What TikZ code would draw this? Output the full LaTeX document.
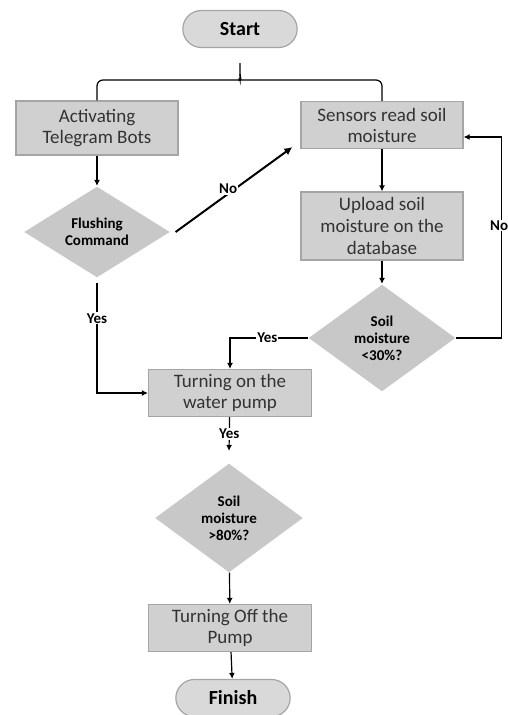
\documentclass[tikz,border=0pt]{standalone}
\usepackage{fontspec}
\setmainfont{Carlito}
\usetikzlibrary{arrows.meta,positioning,shapes.geometric,shapes.misc}
\definecolor{boxfill}{HTML}{D0D0D0}
\definecolor{boxline}{HTML}{A5A5A5}
\definecolor{decfill}{HTML}{C8C8C8}
\definecolor{pillfill}{HTML}{D9D9D9}
\definecolor{txt}{HTML}{333333}

\begin{document}
\begin{tikzpicture}[x=1pt,y=-1pt,line width=1.2pt,>={Latex[length=6pt,width=6pt]},
  procbox/.style={draw=boxline,fill=boxfill,text=txt,align=center,minimum width=163pt,minimum height=47pt,inner sep=2pt,font=\fontsize{19}{21}\selectfont},
  pill/.style={rounded rectangle,draw=boxline,fill=pillfill,text=black,minimum width=121pt,minimum height=37pt,font=\bfseries\fontsize{20}{22}\selectfont},
  decide/.style={diamond,aspect=1.4,fill=decfill,text=black,align=center,inner sep=0pt,minimum width=147pt,minimum height=107pt,font=\bfseries\fontsize{15}{17}\selectfont},
  lbl/.style={fill=white,inner sep=1pt,text=black,font=\bfseries\fontsize{15}{15}\selectfont}]
\useasboundingbox (0,0) rectangle (508,715);

\node[pill] (start) at (240,29) {Start};
\node[procbox,minimum width=162pt,minimum height=54pt] (act) at (97,128) {Activating\\Telegram Bots};
\node[procbox,minimum width=162pt] (sens) at (382,125) {Sensors read soil\\moisture};
\node[decide,minimum width=146pt,minimum height=91pt] (flush) at (97,232) {Flushing\\Command};
\node[procbox,minimum width=162pt,minimum height=68pt,font=\fontsize{19}{22}\selectfont] (upl) at (382,226) {Upload soil\\moisture on the\\database};
\node[decide] (lo) at (382,338) {Soil\\moisture\\<30\%?};
\node[procbox] (ton) at (230,393) {Turning on the\\water pump};
\node[decide,minimum width=148pt,minimum height=109pt] (hi) at (229,518) {Soil\\moisture\\>80\%?};
\node[procbox] (toff) at (230,628) {Turning Off the\\Pump};
\node[pill] (fin) at (233,698) {Finish};

\coordinate (cusp) at (240,74);
\coordinate (stem) at (240,63);
\draw[rounded corners=6pt] (act.north) |- ([xshift=-6pt,yshift=-6pt]cusp) .. controls ([xshift=-2pt,yshift=-6pt]cusp) and ([yshift=-3pt]cusp) .. (cusp) -- (stem);
\draw[rounded corners=6pt] (sens.north) |- ([xshift=6pt,yshift=-6pt]cusp) .. controls ([xshift=2pt,yshift=-6pt]cusp) and ([yshift=-3pt]cusp) .. (cusp);

\draw[->] (act) -- (flush);
\draw[->,line width=2pt,>={Latex[length=8pt,width=8pt]}] ([xshift=5pt]flush.east) -- node[lbl,pos=0.45,yshift=5pt] {No} ([xshift=-8pt,yshift=2pt]sens.south west);
\draw[->] (sens) -- (upl);
\draw[->] (upl) -- (lo);
\draw[->] (lo.east) -- ++(45,0) |- node[lbl,pos=0.28,xshift=-2pt] {No} ([yshift=-12pt]sens.east);
\draw[->] (lo.west) -| node[lbl,pos=0.26] {Yes} (ton.north);
\draw[->] ([yshift=-5pt]flush.south) |- node[lbl,pos=0.16] {Yes} (ton.west);
\draw[->] (ton) -- node[lbl] {Yes} ([yshift=12pt]hi.north);
\draw[->] (hi) -- (toff);
\draw[->] (toff) -- (fin);
\end{tikzpicture}
\end{document}
